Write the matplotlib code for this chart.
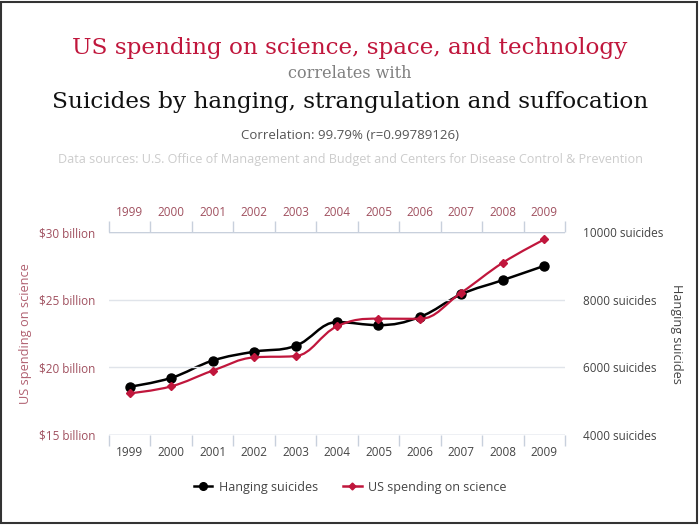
import numpy as np
import matplotlib
matplotlib.use("Agg")
import matplotlib.pyplot as plt
from matplotlib.path import Path
from matplotlib.patches import PathPatch, Rectangle
from matplotlib.lines import Line2D

years = [1999, 2000, 2001, 2002, 2003, 2004, 2005, 2006, 2007, 2008, 2009]
spending_billion = [18.079, 18.594, 19.753, 20.734, 20.831, 23.029, 23.597, 23.584, 25.525, 27.731, 29.449]
hanging_suicides = [5427, 5688, 6198, 6462, 6635, 7336, 7248, 7491, 8161, 8578, 9000]
left_ticks = [15, 20, 25, 30]
left_labels = ["$15 billion", "$20 billion", "$25 billion", "$30 billion"]
right_ticks = [4000, 6000, 8000, 10000]
right_labels = ["4000 suicides", "6000 suicides", "8000 suicides", "10000 suicides"]

RED = "#c0163c"
SANS = "Open Sans"
SERIF = "DejaVu Serif"


def spline_path(xs, ys, smoothing=1.5):
    xs = np.asarray(xs, float)
    ys = np.asarray(ys, float)
    n = len(xs)
    verts = [(xs[0], ys[0])]
    codes = [Path.MOVETO]
    lc = [None] * n
    rc = [None] * n
    denom = smoothing + 1
    for i in range(1, n - 1):
        lx = (smoothing * xs[i] + xs[i - 1]) / denom
        ly = (smoothing * ys[i] + ys[i - 1]) / denom
        rx = (smoothing * xs[i] + xs[i + 1]) / denom
        ry = (smoothing * ys[i] + ys[i + 1]) / denom
        corr = ((ry - ly) * (rx - xs[i])) / (rx - lx) + ys[i] - ry
        ly += corr
        ry += corr
        if ly > ys[i - 1] and ly > ys[i]:
            ly = max(ys[i - 1], ys[i]); ry = 2 * ys[i] - ly
        elif ly < ys[i - 1] and ly < ys[i]:
            ly = min(ys[i - 1], ys[i]); ry = 2 * ys[i] - ly
        if ry > ys[i + 1] and ry > ys[i]:
            ry = max(ys[i + 1], ys[i]); ly = 2 * ys[i] - ry
        elif ry < ys[i + 1] and ry < ys[i]:
            ry = min(ys[i + 1], ys[i]); ly = 2 * ys[i] - ry
        lc[i] = (lx, ly)
        rc[i] = (rx, ry)
    for i in range(1, n):
        c1 = rc[i - 1] if rc[i - 1] is not None else (xs[i - 1], ys[i - 1])
        c2 = lc[i] if lc[i] is not None else (xs[i], ys[i])
        verts += [c1, c2, (xs[i], ys[i])]
        codes += [Path.CURVE4] * 3
    return Path(verts, codes)


fig = plt.figure(figsize=(7, 5.25), dpi=100)
fig.patch.set_facecolor("white")

# titles
fig.text(0.5, 1 - 48 / 525, "US spending on science, space, and technology", ha="center", va="center",
         fontsize=16.7, color=RED, family=SERIF)
fig.text(0.5, 1 - 74 / 525, "correlates with", ha="center", va="center", fontsize=11.5, color="#808080",
         family=SERIF)
fig.text(0.5, 1 - 102 / 525, "Suicides by hanging, strangulation and suffocation", ha="center", va="center",
         fontsize=16.7, color="#111111", family=SERIF)
fig.text(0.5, 1 - 136 / 525, "Correlation: 99.79% (r=0.99789126)", ha="center", va="center", fontsize=9.5,
         color="#555555", family=SANS)
fig.text(0.5, 1 - 159 / 525,
         "Data sources: U.S. Office of Management and Budget and Centers for Disease Control & Prevention",
         ha="center", va="center", fontsize=9.1, color="#cccccc", family=SANS)

x0, x1 = 109 / 700, 565 / 700
y0, y1 = 1 - 435 / 525, 1 - 232 / 525
ax = fig.add_axes([x0, y0, x1 - x0, y1 - y0])
ax2 = ax.twinx()

ax.set_xlim(years[0] - 0.5, years[-1] + 0.5)
ax.set_ylim(15, 30)
ax2.set_ylim(4000, 10000)

for a in (ax, ax2):
    for s in a.spines.values():
        s.set_visible(False)
    a.set_facecolor("none")

ax.set_zorder(ax2.get_zorder() + 1)
ax.patch.set_visible(False)

# grid lines
for t in left_ticks:
    ax.axhline(t, color="#e0e4ea", lw=1, zorder=0)
ax.axhline(15, color="#c8d0dc", lw=1, zorder=0.5)
ax.axhline(30, color="#c8d0dc", lw=1, zorder=0.5)

ax.set_yticks(left_ticks)
ax.set_yticklabels(left_labels, fontsize=8.5, color="#a0505f", family=SANS)
ax.tick_params(axis="y", length=0, pad=10)
ax2.set_yticks(right_ticks)
ax2.set_yticklabels(right_labels, fontsize=8.5, color="#444444", family=SANS)
ax2.tick_params(axis="y", length=0, pad=13)

# bottom x axis
boundaries = [y - 0.5 for y in years] + [years[-1] + 0.5]
ax.set_xticks(years)
ax.set_xticklabels([str(y) for y in years], fontsize=8.5, color="#444444", family=SANS)
ax.tick_params(axis="x", length=0, pad=8)
ax.set_xticks(boundaries, minor=True)
ax.tick_params(axis="x", which="minor", length=8, color="#c8d0dc", width=1, direction="out")

# top x axis
axt = ax.secondary_xaxis("top")
axt.set_xticks(years)
axt.set_xticklabels([str(y) for y in years], fontsize=8.5, color="#a0505f", family=SANS)
axt.tick_params(axis="x", length=0, pad=9)
axt.set_xticks(boundaries, minor=True)
axt.tick_params(axis="x", which="minor", length=8, color="#c8d0dc", width=1, direction="out")
axt.spines["top"].set_visible(False)

ax.set_ylabel("US spending on science", fontsize=9.2, color="#b06070", family=SANS, labelpad=5)
ax2.set_ylabel("Hanging suicides", fontsize=9.1, color="#444444", family=SANS, rotation=270, labelpad=14)

# black series (right axis)
ax2.add_patch(PathPatch(spline_path(years, hanging_suicides), fill=False, edgecolor="black", lw=1.8,
                        zorder=2))
ax2.plot(years, hanging_suicides, ls="none", marker="o", ms=6.5, color="black", zorder=3)

# red series (left axis, on top)
ax.add_patch(PathPatch(spline_path(years, spending_billion), fill=False, edgecolor=RED, lw=1.6, zorder=4))
ax.plot(years, spending_billion, ls="none", marker="D", ms=4, color=RED, zorder=5)

# legend
h1 = Line2D([], [], color="black", marker="o", ms=5.5, lw=1.8)
h2 = Line2D([], [], color=RED, marker="D", ms=3.5, lw=1.8)
leg = fig.legend([h1, h2], ["Hanging suicides", "US spending on science"], loc="center",
                 bbox_to_anchor=(0.5, 1 - 487 / 525), ncol=2, frameon=False, handlelength=1.5,
                 columnspacing=2.0, handletextpad=0.5, prop={"family": SANS, "size": 9.0})
for t in leg.get_texts():
    t.set_color("#444444")

# outer border
fig.patches.append(Rectangle((0.002, 0.004), 0.994, 0.993, transform=fig.transFigure, fill=False,
                             edgecolor="#333333", lw=1.5))

fig.savefig("out.png", dpi=100)
